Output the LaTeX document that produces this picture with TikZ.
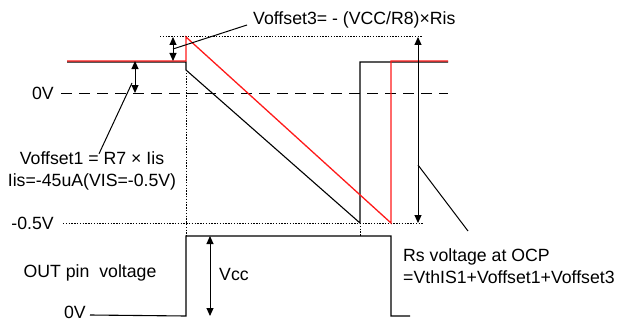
\documentclass[tikz,border=0pt]{standalone}
\usepackage{fontspec}
\setmainfont{Liberation Sans}
\usepackage{tikz}
\usetikzlibrary{arrows.meta,positioning,calc}
\definecolor{wavered}{HTML}{FF1A1A}

\begin{document}
\begin{tikzpicture}[x=1pt, y=-1pt, >={Triangle[length=8pt,width=7pt]},
  lbl/.style={inner sep=0pt, font=\fontsize{17.7}{21.5}\selectfont},
  wave/.style={black, line width=1.1pt},
  redwave/.style={wavered, line width=1.3pt},
  dotline/.style={black, line width=1pt, dash pattern=on 1.4pt off 1.4pt},
  dashline/.style={black, line width=1pt, dash pattern=on 10.5pt off 7.5pt},
  dim/.style={<->, black, line width=1pt},
  ptr/.style={black, line width=1pt}]
  \useasboundingbox (0,0) rectangle (631,321);
  % waveform corners
  \coordinate (hiL) at (67,61);
  \coordinate (edge) at (186,61);
  \coordinate (peak) at (186,37);
  \coordinate (bkTop) at (186,70);
  \coordinate (bkLow) at (360,223);
  \coordinate (rdLow) at (391,223);
  \coordinate (hiR) at (448,61);
  % labels
  \node[lbl, anchor=west] (v3lbl) at (253,20) {Voffset3= - (VCC/R8)×Ris};
  \node[lbl, anchor=east] (zero) at (54,93) {0V};
  \node[lbl, anchor=east] (half) at (54,223) {-0.5V};
  \node[lbl, align=center] (v1lbl) at (92,171) {Voffset1 = R7 × Iis\\Iis=-45uA(VIS=-0.5V)};
  \node[lbl] (outlbl) at (90,273) {OUT pin\ \ voltage};
  \node[lbl, anchor=west] (vcc) at (219,274) {Vcc};
  \node[lbl, anchor=east] (outzero) at (86,312) {0V};
  \node[lbl, anchor=west, align=left] (rslbl) at (403,266) {Rs voltage at OCP\\=VthIS1+Voffset1+Voffset3};
  % reference lines
  \draw[dotline] (160,37) -- (423,37);
  \draw[dashline] (61,93) -- (448,93);
  \draw[dotline] (63,223) -- (423,223);
  \draw[dotline] (bkTop) -- (186,236);
  \draw[dotline] (bkLow) -- (360,236);
  % Rs waveforms
  \draw[wave] ($(hiL)+(0,1)$) -- ($(edge)+(0,1)$) -- (bkTop) -- (bkLow) -- (360,62) -- ($(hiR)+(0,1)$);
  \draw[redwave] (hiL) -- (edge) -- (peak) -- (rdLow) -- (391,61) -- (hiR);
  % OUT pin voltage
  \draw[wave] (outzero.east) ++(4,3) -- (186,316) -- (186,236) -- (391,236) -- (391,316) -- (410,316);
  % dimension arrows
  \draw[dim] (173,37) -- (173,61);
  \draw[dim] (135,61) -- (135,93);
  \draw[dim] (418,37) -- (418,223);
  \draw[dim] (210,236) -- (210,316);
  % pointers
  \coordinate (v3tip) at (173,49);
  \coordinate (v1tip) at (132,83);
  \coordinate (rstip) at (418,165);
  \coordinate (rsend) at (468,231);
  \draw[ptr] ([xshift=-6pt,yshift=-5pt]v3lbl.west) -- (v3tip);
  \draw[ptr] ([xshift=7pt,yshift=-2pt]v1lbl.north) -- (v1tip);
  \draw[ptr] (rstip) -- (rsend);
\end{tikzpicture}
\end{document}
